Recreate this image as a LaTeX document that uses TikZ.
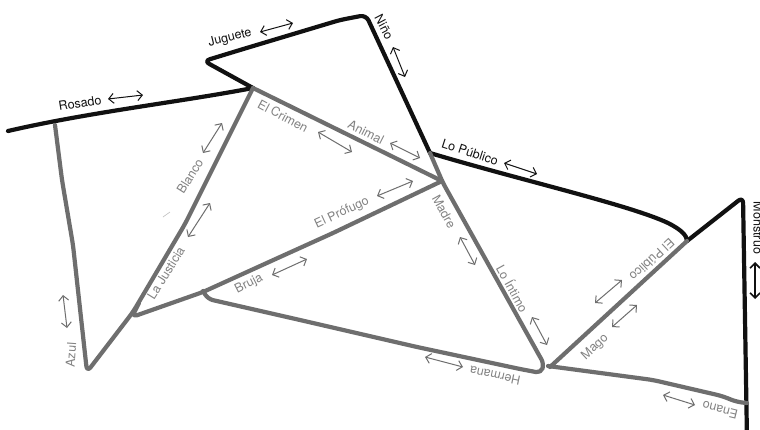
\documentclass[tikz,border=0pt]{standalone}
\usepackage{fontspec}
\setmainfont{TeX Gyre Heros}
\usetikzlibrary{arrows.meta}
\definecolor{linegray}{HTML}{6E6E6E}
\definecolor{textgray}{HTML}{828282}
\definecolor{inkblack}{HTML}{111111}
\tikzset{
  blkline/.style={draw=inkblack, line width=4.2pt, line cap=round, line join=round},
  gryline/.style={draw=linegray, line width=4.2pt, line cap=round, line join=round},
  lblblack/.style={text=inkblack, font=\fontsize{12.5}{14}\selectfont, inner sep=0pt},
  lblgray/.style={text=textgray, font=\fontsize{12.5}{14}\selectfont, inner sep=0pt},
  dblarrow/.style={{Straight Barb[length=5pt,width=10pt]}-{Straight Barb[length=5pt,width=10pt]}, line width=1pt},
  dblblack/.style={dblarrow, draw=inkblack},
  dblgray/.style={dblarrow, draw=linegray}
}
\begin{document}
\begin{tikzpicture}[x=1pt,y=-1pt]
\useasboundingbox[fill=white] (0,0) rectangle (760,429);

% ---- black lines ----
\draw[blkline] (8,131) .. controls (90,112) and (180,102) .. (253,88);
\draw[blkline, rounded corners=6pt] (253,88) -- (204,61) -- (240,50) -- (340,20) -- (366,15) -- (430,153);
\draw[blkline] (430,153) .. controls (520,180) and (630,205) .. (668,223) .. controls (682,230) and (687,236) .. (687,241);
\draw[blkline, rounded corners=6pt] (687,241) -- (743,197) -- (747,440);

% ---- gray lines ----
\draw[gryline, rounded corners=6pt] (55,125) -- (62,180) -- (73,245) -- (87,372) -- (133,312) -- (185,224) -- (253,88);
\draw[gryline] (253,88) -- (442,181);
\draw[gryline, rounded corners=5pt] (430,153) -- (443,183) -- (544,364) -- (541,373) -- (520,369) -- (417,347) -- (300,320) -- (208,299) -- (203,291);
\draw[gryline, rounded corners=5pt] (139,303) -- (132,317) -- (203,292) -- (280,257) -- (333,233) -- (442,181);
\draw[gryline] (550,367) -- (687,241);
\draw[gryline, rounded corners=6pt] (548,366) -- (653,380) -- (722,396) -- (737,402) -- (747,403);
\draw[draw=black!25, line width=0.6pt] (163,217) -- (170,212);

% ---- black labels ----
\node[lblblack, rotate=9] (rosado) at (80,103) {Rosado};
\draw[dblblack] (108,99) -- (143,95);
\node[lblblack, rotate=14] (juguete) at (230,38) {Juguete};
\draw[dblblack] (260,32) -- (293,23);
\node[lblblack, rotate=-62] (nino) at (384,27) {Niño};
\draw[dblblack] (393,47) -- (405,77);
\node[lblblack, rotate=-18] (lopublico) at (470,152) {Lo Público};
\draw[dblblack] (504,163) -- (537,174);
\node[lblblack, rotate=-90, anchor=base] (monstruo) at (753.5,228) {Monstruo};
\draw[dblblack, line width=1.6pt] (755,262) -- (755,299);

% ---- gray labels ----
\node[lblgray, rotate=-28] (crimen) at (283,116) {El Crimen};
\draw[dblgray] (318,132) -- (352,152);
\node[lblgray, rotate=-27] (animal) at (366,132) {Animal};
\draw[dblgray] (390,143) -- (420,158);
\node[lblgray, rotate=58] (blanco) at (190,176) {Blanco};
\draw[dblgray] (203,153) -- (222,123);
\node[lblgray, rotate=58] (justicia) at (166,273) {La Justicia};
\draw[dblgray] (188,237) -- (210,203);
\node[lblgray, rotate=86] (azul) at (71,355) {Azul};
\draw[dblgray] (63,295) -- (67,328);
\node[lblgray, rotate=27] (bruja) at (249,284) {Bruja};
\draw[dblgray] (272,275) -- (307,259);
\node[lblgray, rotate=25] (profugo) at (342,213) {El Prófugo};
\draw[dblgray] (377,196) -- (413,181);
\node[lblgray, rotate=-61] (madre) at (444,212) {Madre};
\draw[dblgray] (460,237) -- (475,265);
\node[lblgray, rotate=-61] (intimo) at (513,288) {Lo Íntimo};
\draw[dblgray] (532,317) -- (547,345);
\node[lblgray, rotate=168] (hermana) at (495,376) {Hermana};
\draw[dblgray] (425,357) -- (463,367);
\node[lblgray, rotate=223] (elpublico) at (652,260) {El Público};
\draw[dblgray] (595,303) -- (622,280);
\node[lblgray, rotate=43] (mago) at (595,347) {Mago};
\draw[dblgray] (612,327) -- (637,305);
\node[lblgray, rotate=166] (enano) at (720,410) {Enano};
\draw[dblgray] (663,395) -- (695,405);
\end{tikzpicture}
\end{document}
